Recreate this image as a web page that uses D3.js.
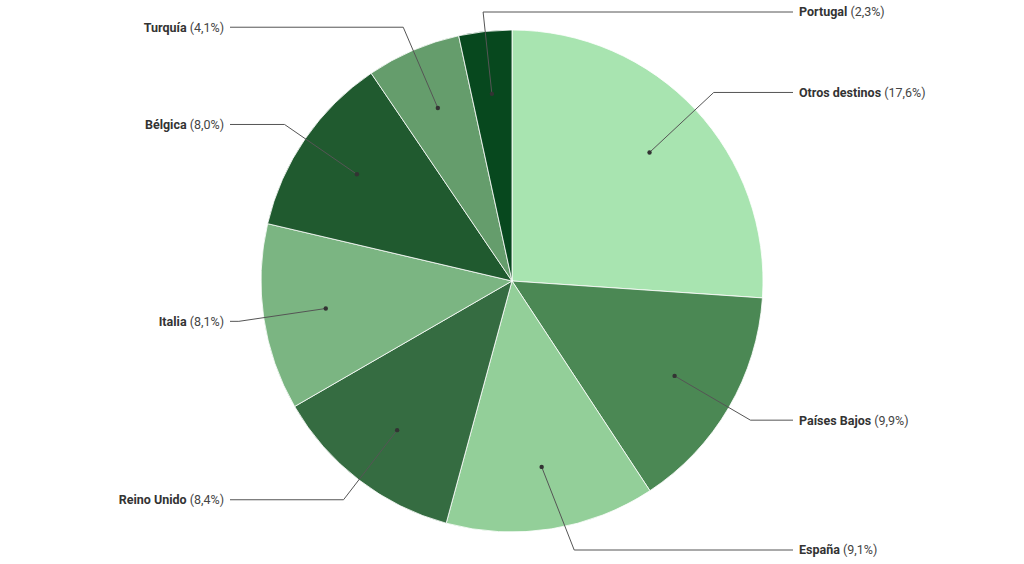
<!DOCTYPE html>
<html><head><meta charset="utf-8">
<script src="https://cdn.jsdelivr.net/npm/d3@7"></script>
<style>body{margin:0;background:#fff}svg{display:block}</style>
</head><body>
<svg id="c" width="1024" height="564"></svg>
<script>
const categories = ["Otros destinos","Países Bajos","España","Reino Unido","Italia","Bélgica","Turquía","Portugal"];
const values = [17.6, 9.9, 9.1, 8.4, 8.1, 8.0, 4.1, 2.3];
const valueLabels = ["17,6%","9,9%","9,1%","8,4%","8,1%","8,0%","4,1%","2,3%"];
const labelSides = ["right","right","right","left","left","left","left","right"];
const colors = ["#a8e4b0","#4b8854","#93cf99","#356c41","#7bb582","#205a2f","#659d6c","#07481e"];

const svg = d3.select("#c");
const cx = 512, cy = 281, r = 251;
const g = svg.append("g").attr("transform", `translate(${cx},${cy})`);
const data = categories.map((c,i)=>({c, v:values[i], lab:valueLabels[i], col:colors[i], side:labelSides[i]}));
const pie = d3.pie().value(d=>d.v).sort(null);
const arcs = pie(data);
const arc = d3.arc().innerRadius(0).outerRadius(r);
g.selectAll("path.s").data(arcs).join("path")
  .attr("d", arc).attr("fill", d=>d.data.col)
  .attr("stroke","#fff").attr("stroke-width",0.8);

const yMin = 12 - cy, yMax = 550 - cy, R2 = r*1.1;
const pt = (a, rr) => [Math.sin(a)*rr, -Math.cos(a)*rr];
arcs.forEach(d=>{
  const a = (d.startAngle + d.endAngle)/2;
  const p0 = pt(a, r*0.75);
  let p1 = pt(a, R2);
  const right = d.data.side === "right";
  const natural = Math.sin(a) >= 0;
  if (p1[1] < yMin || p1[1] > yMax) {
    const y = Math.max(yMin, Math.min(yMax, p1[1]));
    if (right !== natural) {
      p1 = [p0[0] + (y - p0[1]) * Math.tan(a) * -1, y];
      p1[0] = p0[0] + (y - p0[1]) * (Math.sin(a) / -Math.cos(a));
    } else {
      const x = Math.sqrt(Math.max(0, R2*R2 - y*y)) * (natural ? 1 : -1);
      p1 = [x, y];
    }
  }
  const xe = right ? 281 : -282;
  g.append("polyline")
    .attr("points", [p0, p1, [xe, p1[1]]].map(p=>p.join(",")).join(" "))
    .attr("fill","none").attr("stroke","#555").attr("stroke-width",1);
  g.append("circle").attr("cx",p0[0]).attr("cy",p0[1]).attr("r",2.2).attr("fill","#333");
  const t = g.append("text")
    .attr("x", right ? xe+6 : xe-6).attr("y", p1[1])
    .attr("dy","0.35em")
    .attr("text-anchor", right ? "start" : "end")
    .attr("font-family","Roboto, sans-serif").attr("font-size",12.5).attr("fill","#333");
  t.append("tspan").attr("font-weight","bold").text(d.data.c);
  t.append("tspan").attr("fill","#444").text(" (" + d.data.lab + ")");
});
</script>
</body></html>
